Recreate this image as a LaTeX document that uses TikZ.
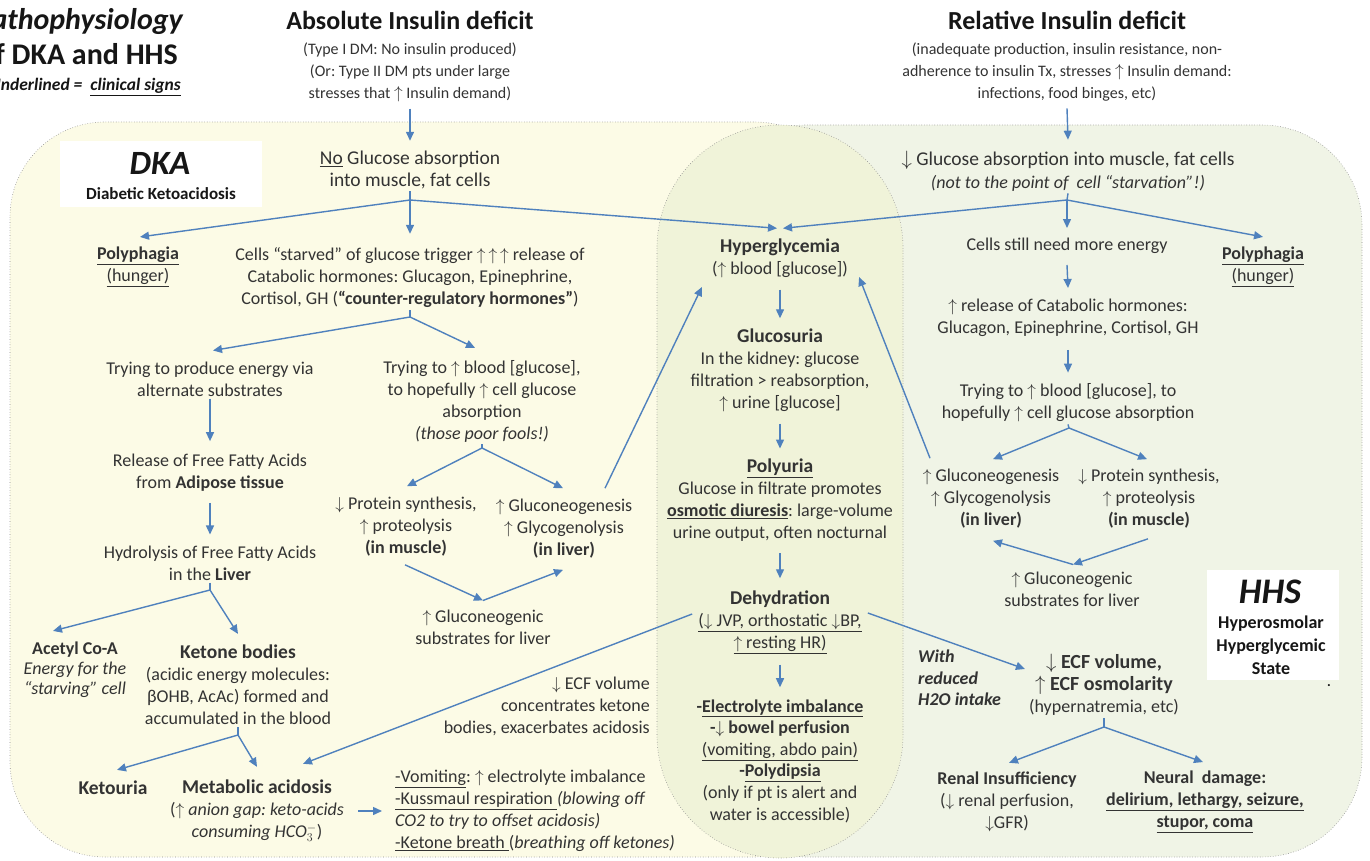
\documentclass[tikz,border=0pt]{standalone}
\usepackage{fontspec}
\setmainfont{Carlito}
\usetikzlibrary{arrows.meta,calc}
\definecolor{txt}{HTML}{333333}
\definecolor{dark}{HTML}{161616}
\definecolor{arr}{HTML}{4F81BD}
\definecolor{dkafill}{HTML}{FCFBE6}
\definecolor{hhsfill}{HTML}{F0F4E6}
\definecolor{capfill}{HTML}{F0F3D9}
\definecolor{bord}{HTML}{8C8C8C}
\newcommand\up{$\uparrow$}
\newcommand\dn{$\downarrow$}
\newcommand\fs[2]{\fontsize{#1}{#2}\selectfont}
\newcommand\hb[1]{{\bfseries\fs{19.5}{22}#1}}
\frenchspacing
\begin{document}
\begin{tikzpicture}[x=1pt,y=-1pt,
  t/.style={text=txt,align=center,inner sep=2pt,font=\fs{18}{22}},
  sub/.style={text=txt,align=center,inner sep=2pt,font=\fs{16}{22}},
  ttl/.style={text=dark,inner sep=0pt,font=\bfseries\fs{26}{26}},
  ar/.style={draw=arr,line width=1.4pt,-{Triangle[length=9pt,width=8pt]}},
  ln/.style={draw=arr,line width=1.4pt},
  region/.style={draw=bord,dotted,line width=0.6pt},
  wbox/.style={fill=white,inner sep=0pt}]
\useasboundingbox (0,0) rectangle (1370,861);
\fill[white] (0,0) rectangle (1370,861);
% regions
\path[region,fill=dkafill,rounded corners=95pt] (10,122) rectangle (850,857);
\path[region,fill=hhsfill,rounded corners=100pt] (705,125) rectangle (1362,857);
\path[region,fill=capfill,rounded corners=123pt] (657,125) rectangle (903,858);
% white title boxes
\node[wbox,minimum width=202pt,minimum height=66pt] (dkabox) at (161,174) {};
\node[wbox,minimum width=132pt,minimum height=110pt] (hhsbox) at (1273,625) {};
% top-left title (cut at the left edge, as in the original)
\node[anchor=east,inner sep=0pt,text=dark,font=\bfseries\itshape\fs{30}{30}] (pt1) at (183,22) {Pathophysiology};
\node[anchor=east,inner sep=0pt,text=dark,font=\bfseries\fs{30}{30}] (pt2) at (178,54) {of DKA and HHS};
\node[anchor=east,inner sep=0pt,text=dark,font=\bfseries\itshape\fs{17.5}{17.5}] (pt3) at (181,87) {Underlined =~ \underline{clinical signs}};
% top causes
\node[ttl] (abs) at (410,20) {Absolute Insulin deficit};
\node[sub] (abssub) at (410,72) {(Type I DM: No insulin produced)\\(Or: Type II DM pts under large\\stresses that \up{} Insulin demand)};
\node[ttl] (rel) at (1067,20) {Relative Insulin deficit};
\node[sub] (relsub) at (1067,72) {(inadequate production, insulin resistance, non-\\adherence to insulin Tx, stresses \up{} Insulin demand:\\infections, food binges, etc)};
% DKA label
\node[inner sep=0pt,text=dark,font=\bfseries\itshape\fs{34}{34}] (dka) at (160,163) {DKA};
\node[inner sep=0pt,text=dark,font=\bfseries\fs{17}{20}] (dkasub) at (161,194) {Diabetic Ketoacidosis};
% HHS label
\node[inner sep=0pt,text=dark,font=\bfseries\itshape\fs{36}{36}] (hhs) at (1270,592) {HHS};
\node[inner sep=0pt,text=dark,align=center,font=\bfseries\fs{18}{23}] (hhssub) at (1271,645) {Hyperosmolar\\Hyperglycemic\\State};
\node[inner sep=0pt,text=dark,font=\bfseries\fs{14}{14}] (dot) at (1329,686) {.};
% DKA side
\node[t,font=\fs{19.5}{22}] (nog) at (410,170) {\underline{No} Glucose absorption\\into muscle, fat cells};
\coordinate (br1) at (410,200);
\node[t] (poly1) at (138,267) {\textbf{\underline{Polyphagia}}\\\underline{(hunger)}};
\node[t] (cells) at (410,278) {Cells “starved” of glucose trigger \up\,\up\,\up{} release of\\Catabolic hormones: Glucagon, Epinephrine,\\Cortisol, GH (\textbf{“counter-regulatory hormones”})};
\coordinate (br2) at (410,317);
\node[t] (alt) at (210,379) {Trying to produce energy via\\alternate substrates};
\node[t] (trying) at (482,401) {Trying to \up{} blood [glucose],\\to hopefully \up{} cell glucose\\absorption\\\textit{(those poor fools!)}};
\coordinate (br3) at (482,448);
\node[t] (ffa) at (210,473) {Release of Free Fatty Acids\\from \textbf{Adipose tissue}};
\node[t] (hydro) at (210,563) {Hydrolysis of Free Fatty Acids\\in the \textbf{Liver}};
\coordinate (br4) at (210,590);
\node[t] (muscle1) at (406,527) {\dn{} Protein synthesis,\\\up{} proteolysis\\\textbf{(in muscle)}};
\node[t] (liver1) at (564,529) {\up{} Gluconeogenesis\\\up{} Glycogenolysis\\\textbf{(in liver)}};
\node[t] (subs1) at (483,627) {\up{} Gluconeogenic\\substrates for liver};
\node[t,font=\fs{18}{20}] (acetyl) at (75,670) {\textbf{Acetyl Co-A}\\\textit{Energy for the}\\\textit{“starving” cell}};
\node[t] (ketone) at (238,685) {\hb{Ketone bodies}\\(acidic energy molecules:\\βOHB, AcAc) formed and\\accumulated in the blood};
\coordinate (br5) at (238,735);
\node[t] (ketouria) at (113,788) {\hb{Ketouria}};
\node[t] (metab) at (257,811) {\hb{Metabolic acidosis}\\(\up{} \textit{anion gap: keto-acids}\\\textit{consuming HCO$_3^-$})};
\node[t,align=left,anchor=west] (list) at (393,811) {\underline{-Vomiting}: \up{} electrolyte imbalance\\\underline{-Kussmaul respiration }\textit{(blowing off}\\\textit{CO2 to try to offset acidosis)}\\\underline{-Ketone breath }(\textit{breathing off ketones)}};
\node[t,align=right,anchor=east] (ecf1) at (652,706) {\dn{} ECF volume\\concentrates ketone\\bodies, exacerbates acidosis};
% centre
\node[t] (hyper) at (780,258) {\hb{Hyperglycemia}\\(\up{} blood [glucose])};
\node[t] (glucos) at (780,370) {\hb{Glucosuria}\\In the kidney: glucose\\filtration > reabsorption,\\\up{} urine [glucose]};
\node[t] (polyu) at (780,500) {\hb{\underline{Polyuria}}\\Glucose in filtrate promotes\\\textbf{\underline{osmotic diuresis}}: large-volume\\urine output, often nocturnal};
\node[t] (dehyd) at (780,622) {\hb{Dehydration}\\\underline{(\dn{} JVP, orthostatic \dn{}BP,}\\\underline{\up{} resting HR)}};
\node[t,font=\fs{18}{21.6}] (elec) at (780,761) {\textbf{-\underline{Electrolyte imbalance}}\\\textbf{-\dn{} bowel perfusion}\\\underline{(vomiting, abdo pain)}\\\textbf{-\underline{Polydipsia}}\\(only if pt is alert and\\water is accessible)};
% HHS side
\node[t,font=\fs{19.5}{23}] (dec) at (1068,171) {\dn{} Glucose absorption into muscle, fat cells\\{\fs{18}{22}\itshape (not to the point of~ cell “starvation”!)}};
\coordinate (br6) at (1067,200);
\node[t] (still) at (1067,246) {Cells still need more energy};
\node[t] (poly2) at (1263,267) {\textbf{\underline{Polyphagia}}\\\underline{(hunger)}};
\node[t] (rel2) at (1068,318) {\up{} release of Catabolic hormones:\\Glucagon, Epinephrine, Cortisol, GH};
\node[t] (try2) at (1068,403) {Trying to \up{} blood [glucose], to\\hopefully \up{} cell glucose absorption};
\coordinate (br7) at (1069,428);
\node[t] (liver2) at (991,499) {\up{} Gluconeogenesis\\\up{} Glycogenolysis\\\textbf{(in liver)}};
\node[t] (muscle2) at (1149,499) {\dn{} Protein synthesis,\\\up{} proteolysis\\\textbf{(in muscle)}};
\node[t] (subs2) at (1072,589) {\up{} Gluconeogenic\\substrates for liver};
\node[t,align=left,anchor=west,font=\bfseries\itshape\fs{18}{21.5}] (with) at (916,678) {With\\reduced\\H2O intake};
\node[t] (ecf2) at (1104,685) {{\bfseries\fs{20}{23}\dn{} ECF volume,}\\{\bfseries\fs{20}{23}\up{} ECF osmolarity}\\(hypernatremia, etc)};
\coordinate (br8) at (1104,727);
\node[t] (renal) at (1007,802) {\textbf{Renal Insufficiency}\\(\dn{} renal perfusion,\\\dn{}GFR)};
\node[t] (neural) at (1205,802) {\textbf{Neural~ damage:}\\\textbf{\underline{delirium, lethargy, seizure,}}\\\textbf{\underline{stupor, coma}}};
% ---------- connectors ----------
\draw[ar] ($(abssub.south)+(0,5)$) -- ($(nog.north)+(0,-8)$);
\draw[ar] ($(relsub.south)+(0,5)$) -- ($(dec.north)+(0,-9)$);
\draw[ln] (nog.south) -- (br1);
\draw[ar] (br1) -- ($(poly1.north)+(2,-8)$);
\draw[ar] (br1) -- ($(cells.north)+(0,-12)$);
\draw[ar] (br1) -- ($(hyper.north)+(-3,-8)$);
\draw[ln] (dec.south) -- (br6);
\draw[ar] (br6) -- ($(hyper.north)+(3,-8)$);
\draw[ar] (br6) -- ($(still.north)+(0,-8)$);
\draw[ar] (br6) -- ($(poly2.north)+(0,-8)$);
\draw[ln] (cells.south) -- (br2);
\draw[ar] (br2) -- ($(alt.north)+(3,-9)$);
\draw[ar] (br2) -- ($(trying.north)+(-7,-10)$);
\draw[ar] (alt.south) -- ($(ffa.north)+(0,-11)$);
\draw[ar] ($(ffa.south)+(0,9)$) -- ($(hydro.north)+(0,-9)$);
\draw[ln] (hydro.south) -- (br4);
\draw[ar] (br4) -- ($(acetyl.north)+(-22,-9)$);
\draw[ar] (br4) -- ($(ketone.north)+(0,-9)$);
\draw[ln] (ketone.south) -- (br5);
\draw[ar] (br5) -- ($(ketouria.north)+(4,-9)$);
\draw[ar] (br5) -- ($(metab.north)+(0,-11)$);
\draw[ar] ($(metab.east)+(12,0)$) -- ($(list.west)+(-11,0)$);
\draw[ln] (trying.south) -- (br3);
\draw[ar] (br3) -- ($(muscle1.north)+(1,-9)$);
\draw[ar] (br3) -- ($(liver1.north)+(-1,-9)$);
\draw[ar] ($(muscle1.south)+(-1,6)$) -- ($(subs1.north)+(0,-7)$);
\draw[ar] ($(subs1.north)+(0,-7)$) -- ($(liver1.south)+(-1,9)$);
\draw[ar] ($(liver1.north)+(41,-9)$) -- ($(hyper.west)+(-8,29)$);
\draw[ar] ($(hyper.south)+(0,10)$) -- ($(glucos.north)+(0,-8)$);
\draw[ar] ($(glucos.south)+(0,10)$) -- ($(polyu.north)+(0,-8)$);
\draw[ar] ($(polyu.south)+(0,10)$) -- ($(dehyd.north)+(0,-10)$);
\draw[ar] ($(dehyd.south)+(0,9)$) -- ($(elec.north)+(0,-10)$);
\draw[ar] ($(dehyd.west)+(-4,-8)$) -- ($(metab.north)+(46,-14)$);
\draw[ar] ($(dehyd.east)+(4,-9)$) -- ($(ecf2.west)+(-2,-16)$);
\draw[ar] ($(still.south)+(0,9)$) -- ($(rel2.north)+(0,-9)$);
\draw[ar] ($(rel2.south)+(0,11)$) -- ($(try2.north)+(0,-9)$);
\draw[ln] (try2.south) -- (br7);
\draw[ar] (br7) -- ($(liver2.north)+(2,-8)$);
\draw[ar] (br7) -- ($(muscle2.north)+(-2,-8)$);
\draw[ar] ($(muscle2.south)+(-1,8)$) -- ($(subs2.north)+(1,-5)$);
\draw[ar] ($(subs2.north)+(1,-5)$) -- ($(liver2.south)+(2,10)$);
\draw[ar] ($(liver2.north)+(-61,-9)$) -- ($(hyper.east)+(9,19)$);
\draw[ln] (ecf2.south) -- (br8);
\draw[ar] (br8) -- ($(renal.north)+(2,-7)$);
\draw[ar] (br8) -- ($(neural.north)+(-2,-7)$);
\end{tikzpicture}
\end{document}
